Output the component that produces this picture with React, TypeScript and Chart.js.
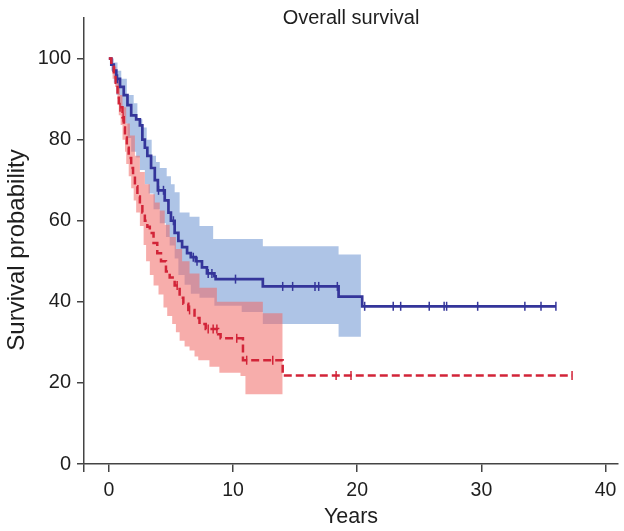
import React, { useEffect, useRef } from 'react';
import { Chart, registerables } from 'chart.js';

Chart.register(...registerables);

// ---- Data (years, survival %) ----
const blueTimes = [0, 0.2, 0.4, 0.6, 0.9, 1.2, 1.5, 1.8, 2.2, 2.5, 2.7, 2.9, 3.1, 3.4, 3.7, 3.95, 4.5, 4.8, 5.0, 5.3, 5.6, 5.9, 6.3, 6.6, 7.0, 7.5, 7.9, 8.5, 8.6, 12.4, 18.5, 20.4, 36.0];
const blueSurv = [100, 98.5, 97, 95, 93, 91, 88.5, 86, 85, 83.5, 80, 78, 76, 73, 70, 67.5, 65, 62, 60, 57, 55, 53.5, 52, 51, 50, 48.5, 47, 46.3, 45.6, 43.8, 41.3, 38.9, 38.9];
const blueCensor = [0.7, 4.0, 4.4, 5.2, 6.8, 7.1, 8.0, 8.3, 10.2, 14.0, 14.8, 16.6, 16.9, 18.4, 20.6, 22.9, 23.5, 25.8, 27.0, 27.2, 29.7, 33.5, 34.8, 36.0];

const blueLowerTimes = [0, 0.2, 0.4, 0.6, 0.9, 1.2, 1.5, 1.8, 2.2, 2.5, 2.9, 3.2, 3.6, 4.1, 4.6, 4.9, 5.3, 5.6, 6.1, 6.6, 7.3, 8.5, 10.7, 12.4, 18.5, 20.3];
const blueLower = [100, 97, 94, 91, 88, 84, 80.4, 77, 75.6, 72.5, 69, 66.7, 62.8, 59.4, 56, 53.9, 50.7, 46.6, 44.2, 42, 41, 39, 37.5, 34.5, 31.4, 31.4];
const blueUpperTimes = [0, 0.4, 0.7, 1.0, 1.45, 2.0, 2.3, 2.7, 3.05, 3.45, 3.8, 4.1, 4.66, 5.0, 5.3, 5.7, 6.5, 7.3, 8.4, 12.4, 18.5, 20.3];
const blueUpper = [100, 99, 97, 95, 91, 89, 85, 83, 80, 76, 74.5, 73, 71, 69, 67, 62, 61, 58.7, 55.5, 53.7, 51.7, 51.7];

const redTimes = [0, 0.2, 0.4, 0.55, 0.7, 0.8, 1.1, 1.2, 1.3, 1.45, 1.6, 1.8, 1.95, 2.1, 2.3, 2.5, 2.7, 2.9, 3.1, 3.3, 3.6, 3.9, 4.2, 4.6, 4.9, 5.3, 5.7, 6.0, 6.4, 6.9, 7.3, 7.8, 8.8, 9.0, 10.8, 14.0, 37.3];
const redSurv = [100, 98, 96, 94, 91, 88, 85.5, 83, 80.5, 78, 75.5, 73, 71, 68.5, 66, 64, 62, 60, 58.5, 57, 54.5, 52, 50, 47.5, 46, 44, 41, 39.5, 38, 36, 34.5, 33.3, 32, 31, 25.6, 21.8, 21.8];
const redCensor = [0.9, 1.15, 5.5, 6.5, 8.0, 8.4, 8.7, 10.3, 11.1, 13.2, 18.3, 19.5, 37.3];

const redLowerTimes = [0, 0.3, 0.5, 0.7, 0.8, 0.95, 1.1, 1.3, 1.4, 1.6, 1.8, 2.0, 2.2, 2.5, 2.8, 3.0, 3.3, 3.6, 4.0, 4.4, 4.7, 5.1, 5.4, 5.7, 6.1, 6.5, 6.9, 7.2, 8.1, 8.9, 10.6, 11.0, 14.0];
const redLower = [100, 95, 93, 90, 86, 83.6, 80, 77, 74, 71, 68, 65, 62, 58.7, 54, 50, 46.6, 44, 41.8, 38.6, 36.5, 34.5, 32.5, 30.4, 29, 28, 26.5, 25.6, 24, 22.5, 21.7, 17.2, 17.2];
const redUpperTimes = [0, 0.3, 0.6, 0.9, 1.1, 1.4, 1.7, 2.1, 2.5, 2.9, 3.3, 3.7, 4.1, 4.5, 4.9, 5.4, 5.9, 6.5, 7.3, 8.7, 12.4, 14.0];
const redUpper = [100, 98, 95, 91, 88, 84, 81, 76, 72, 69, 66.5, 64.5, 62.5, 59, 56, 53, 50, 47, 43.5, 40, 37.2, 37.2];

const xTicks = [-2, 0, 10, 20, 30, 40];
const yTicks = [0, 20, 40, 60, 80, 100];

const BLUE = '#34359a';
const RED = '#d22438';
const TEXT = '#1e1e1e';
const FONT = "'Liberation Sans', Arial, Helvetica, sans-serif";

function pts(times: number[], vals: number[]) {
  return times.map((t, i) => ({ x: t, y: vals[i] }));
}
function stepValue(times: number[], vals: number[], t: number) {
  let v = vals[0];
  for (let i = 0; i < times.length; i++) if (times[i] <= t) v = vals[i];
  return v;
}
function censorPts(c: number[], times: number[], vals: number[]) {
  return c.map((t) => ({ x: t, y: stepValue(times, vals, t) }));
}

const textPlugin = {
  id: 'texts',
  afterDraw(chart: any) {
    const { ctx, chartArea } = chart;
    ctx.save();
    ctx.fillStyle = TEXT;
    ctx.textAlign = 'center';
    ctx.textBaseline = 'middle';
    ctx.font = `20px ${FONT}`;
    ctx.fillText('Overall survival', (chartArea.left + chartArea.right) / 2, 18);
    ctx.translate(17, 250);
    ctx.rotate(-Math.PI / 2);
    ctx.font = `24px ${FONT}`;
    ctx.fillText('Survival probability', 0, 0);
    ctx.restore();
  },
};

export default function App() {
  const ref = useRef<HTMLCanvasElement>(null);
  useEffect(() => {
    document.body.style.margin = '0';
    const band = (data: any[], color: string, fillTo: any, order: number) => ({
      type: 'line',
      data,
      stepped: 'before',
      borderWidth: 0,
      pointRadius: 0,
      backgroundColor: color,
      fill: fillTo,
      order,
    });
    const chart = new Chart(ref.current as HTMLCanvasElement, {
      type: 'line',
      data: {
        datasets: [
          band(pts(blueLowerTimes, blueLower), 'rgba(0,0,0,0)', false, 4) as any,
          band(pts(blueUpperTimes, blueUpper), 'rgba(125,160,215,0.62)', 0, 4) as any,
          band(pts(redLowerTimes, redLower), 'rgba(0,0,0,0)', false, 3) as any,
          band(pts(redUpperTimes, redUpper), 'rgba(240,105,102,0.55)', 2, 3) as any,
          {
            type: 'line',
            data: pts(blueTimes, blueSurv),
            stepped: 'before',
            borderColor: BLUE,
            borderWidth: 2.7,
            pointRadius: 0,
            fill: false,
            order: 2,
          } as any,
          {
            type: 'line',
            data: pts(redTimes, redSurv),
            stepped: 'before',
            borderColor: RED,
            borderWidth: 2.5,
            borderDash: [8, 4],
            pointRadius: 0,
            fill: false,
            order: 1,
          } as any,
          {
            type: 'scatter',
            data: censorPts(blueCensor, blueTimes, blueSurv),
            showLine: false,
            pointStyle: 'line',
            rotation: 90,
            radius: 4.5,
            borderColor: BLUE,
            borderWidth: 1.5,
            order: 0,
          } as any,
          {
            type: 'scatter',
            data: censorPts(redCensor, redTimes, redSurv),
            showLine: false,
            pointStyle: 'line',
            rotation: 90,
            radius: 4.5,
            borderColor: RED,
            borderWidth: 1.5,
            order: 0,
          } as any,
        ],
      },
      options: {
        animation: false,
        responsive: false,
        layout: { padding: { top: 8, right: 5, left: 0, bottom: 0 } },
        plugins: { legend: { display: false }, tooltip: { enabled: false }, title: { display: false } },
        scales: {
          x: {
            type: 'linear',
            min: -2,
            max: 41,
            afterBuildTicks: (s: any) => { s.ticks = xTicks.map((v) => ({ value: v })); },
            afterFit: (s: any) => { s.height = 67; },
            grid: { drawOnChartArea: false, drawTicks: true, tickLength: 8, color: '#444', lineWidth: 1.5 },
            border: { display: true, color: '#444', width: 1.5 },
            ticks: {
              padding: 7,
              color: TEXT,
              font: { family: FONT, size: 19.5 },
              callback: (v: any) => (v < 0 ? '' : String(v)),
              maxRotation: 0,
              autoSkip: false,
            },
            title: { display: true, text: 'Years', color: TEXT, font: { family: FONT, size: 21.5 }, padding: { top: 0, bottom: 1 } },
          },
          y: {
            type: 'linear',
            min: 0,
            max: 110,
            afterBuildTicks: (s: any) => { s.ticks = yTicks.map((v) => ({ value: v })); },
            afterFit: (s: any) => { s.width = 84; },
            grid: { drawOnChartArea: false, drawTicks: true, tickLength: 7, color: '#444', lineWidth: 1.5 },
            border: { display: true, color: '#444', width: 1.5 },
            ticks: { padding: 6, color: TEXT, font: { family: FONT, size: 20 }, autoSkip: false },
            title: { display: false },
          },
        },
      },
      plugins: [textPlugin],
    } as any);
    return () => chart.destroy();
  }, []);
  return (
    <div style={{ width: 624, height: 531, position: 'relative' }}>
      <canvas ref={ref} width={624} height={531} style={{ width: 624, height: 531, display: 'block' }} />
    </div>
  );
}
